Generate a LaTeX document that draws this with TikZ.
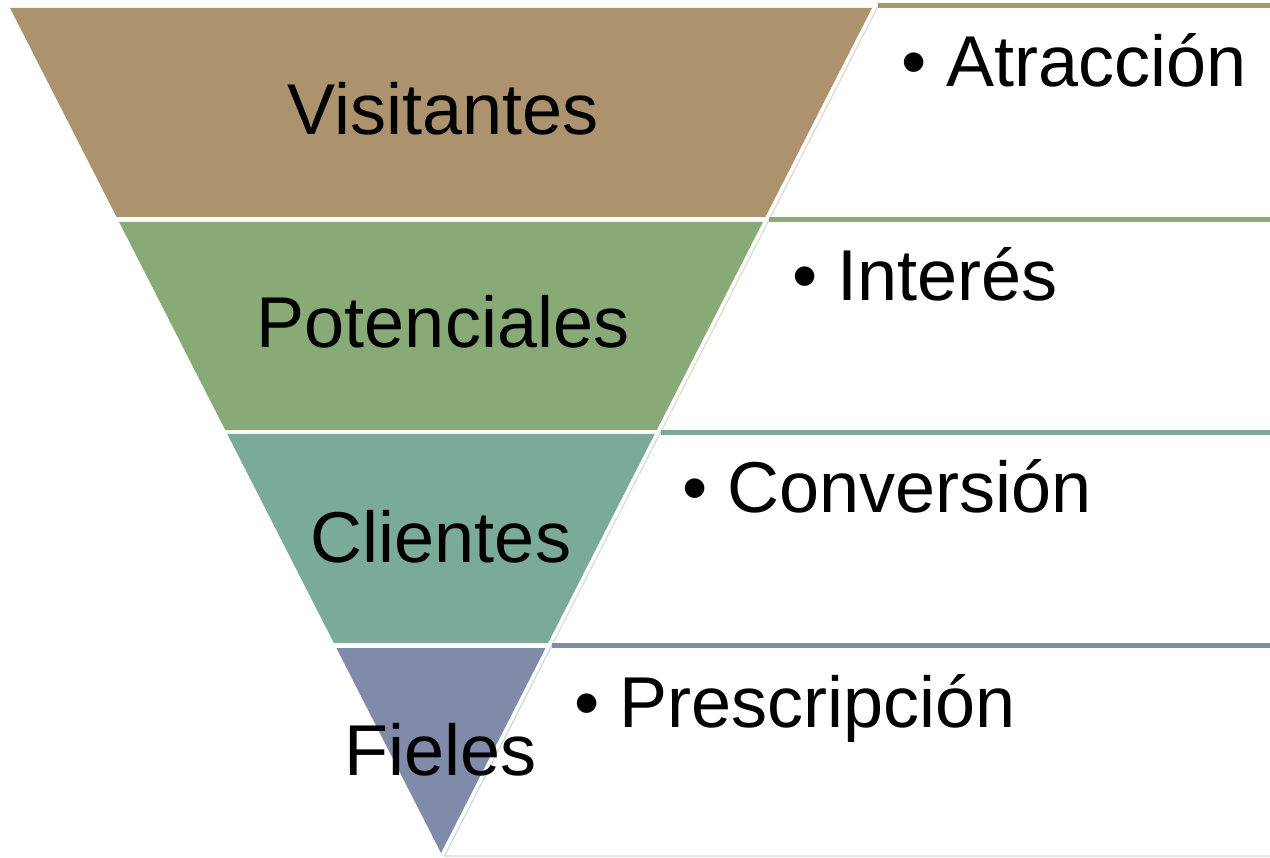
\documentclass[tikz,border=0pt]{standalone}
\usepackage{fontspec}
\setmainfont{Liberation Sans}
\definecolor{cBrown}{RGB}{172,147,110}
\definecolor{cGreen}{RGB}{136,170,118}
\definecolor{cTeal}{RGB}{122,170,152}
\definecolor{cBlue}{RGB}{127,139,168}
\tikzset{
  band/.style={draw=none},
  box/.style={fill=white, draw=#1!35, line width=1.2pt},
  topline/.style={draw=#1, line width=5pt},
  lbl/.style={anchor=base, inner sep=0pt, font=\fontsize{72}{72}\selectfont},
  item/.style={anchor=base west, inner sep=0pt, font=\fontsize{72}{72}\selectfont}
}
\begin{document}
\begin{tikzpicture}[x=1pt,y=-1pt]
\useasboundingbox (0,0) rectangle (1270,858);
\clip (0,0) rectangle (1270,858);
\fill[white] (0,0) rectangle (1270,858);
% funnel bands
\fill[cBrown] (10,8) -- (872,8) -- (765.4,217) -- (116.6,217) -- cycle;
\fill[cGreen] (119.1,222) -- (762.9,222) -- (656.8,430) -- (225.2,430) -- cycle;
\fill[cTeal] (227.3,434) -- (654.7,434) -- (548.1,643) -- (333.9,643) -- cycle;
\fill[cBlue] (336.4,648) -- (545.6,648) -- (441,853) -- cycle;
% right boxes
\path[box=cBrown] (878.1,6) -- (1290,6) -- (1290,219.5) -- (769.2,219.5) -- cycle;
\path[box=cGreen] (769.2,219.5) -- (1290,219.5) -- (1290,432.5) -- (660.5,432.5) -- cycle;
\path[box=cTeal] (660.5,432.5) -- (1290,432.5) -- (1290,645.5) -- (551.8,645.5) -- cycle;
\path[box=cBlue] (551.8,645.5) -- (1290,645.5) -- (1290,856) -- (444.5,856) -- cycle;
\draw[topline=cBrown] (878.1,6) -- (1290,6);
\draw[topline=cGreen] (769.2,219.5) -- (1290,219.5);
\draw[topline=cTeal] (660.5,432.5) -- (1290,432.5);
\draw[topline=cBlue] (551.8,645.5) -- (1290,645.5);
% funnel labels
\node[lbl] (visitantes) at (443,135) {Visitantes};
\node[lbl] (potenciales) at (443,348) {Potenciales};
\node[lbl] (clientes) at (441,562) {Clientes};
\node[lbl] (fieles) at (441,775) {Fieles};
% items
\node[item] (atraccion) at (901,87) {• Atracción};
\node[item] (interes) at (792,301) {• Interés};
\node[item] (conversion) at (682,513) {• Conversión};
\node[item] (prescripcion) at (574,727) {• Prescripción};
\end{tikzpicture}
\end{document}
